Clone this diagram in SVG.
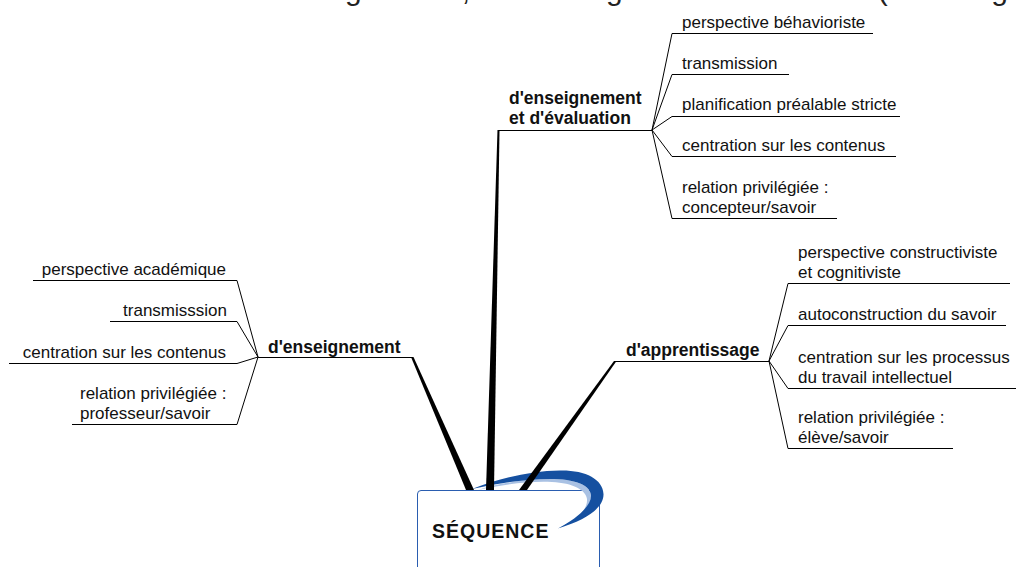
<svg xmlns="http://www.w3.org/2000/svg" width="1016" height="567" viewBox="0 0 1016 567">
<style>
.leaf{font-family:"Liberation Sans",Arial,sans-serif;font-size:17px;fill:#111}
.br{font-family:"Liberation Sans",Arial,sans-serif;font-size:17.5px;font-weight:bold;fill:#111}
.thin{stroke:#000;stroke-width:1;fill:none}
.thick{fill:#000;stroke:none}
</style>
<rect width="1016" height="567" fill="#fff"/>
<text x="-32" y="0" font-family="Liberation Sans, Arial, sans-serif" font-size="30" fill="#222">différentes situations d'enseignement, et d'enseignement-évaluation (voir la figure</text>

<g id="center">
  <path d="M417.5 600 V494 Q417.5 490.5 421 490.5 H599.5 V600" fill="#fff" stroke="#2a5db0" stroke-width="1"/>
  <path d="M478 490 C505 484 530 481 552 482 C573 483 586 490 587 499 C588 510 575 521 559 528 C580 520 592 508 591 495 C590 485 575 479 550 479 C525 479 500 483 478 490 Z" fill="#a9c1e3"/>
  <path d="M472 489 C500 478 530 471 560 470.5 C585 470 603 479 603.5 494 C604 508 586 520 558 528.5 C578 518 592 505 591 495 C590 485 575 479 550 479 C525 479 500 483 472 489 Z" fill="#1550a0"/>
  <text x="432" y="538" font-family="Liberation Sans, Arial, sans-serif" font-size="19.5" font-weight="bold" letter-spacing="1" fill="#111">SÉQUENCE</text>
</g>

<g id="connectors">
  <polygon class="thick" points="411,357 413.5,357 474,490 466,490"/>
  <polygon class="thick" points="497.5,130 499.5,130 494,490 486,490"/>
  <polygon class="thick" points="614,361 616.5,361 527,490 519,490"/>
  <path class="thin" d="M258 357.5 H412 M498 130.5 H652 M615 361.5 H769"/>
  <path class="thin" d="M652 130 L672 33.5 H873 M652 130 L672 74.5 H789 M652 130 L672 116.5 H900 M652 130 L672 156.5 H896 M652 130 L672 218.5 H837"/>
  <path class="thin" d="M258 357 L237 280.5 H33 M258 357 L237 321.5 H110 M258 357 L237 363.5 H9 M258 357 L237 424.5 H72"/>
  <path class="thin" d="M769 361 L788 283.5 H1010 M769 361 L788 325.5 H1006 M769 361 L788 388.5 H1016 M769 361 L788 448.5 H953"/>
</g>

<g id="branch-enseignement"><text class="br" x="268" y="353">d'enseignement</text></g>
<g id="branch-evaluation"><text class="br" x="509" y="104">d'enseignement</text><text class="br" x="509" y="124">et d'évaluation</text></g>
<g id="branch-apprentissage"><text class="br" x="626" y="356">d'apprentissage</text></g>

<g id="leaf-l1"><text class="leaf" x="226" y="275" text-anchor="end">perspective académique</text></g>
<g id="leaf-l2"><text class="leaf" x="227" y="316" text-anchor="end">transmisssion</text></g>
<g id="leaf-l3"><text class="leaf" x="226" y="358" text-anchor="end">centration sur les contenus</text></g>
<g id="leaf-l4"><text class="leaf" x="80" y="399">relation privilégiée :</text><text class="leaf" x="80" y="419">professeur/savoir</text></g>

<g id="leaf-t1"><text class="leaf" x="682" y="28">perspective béhavioriste</text></g>
<g id="leaf-t2"><text class="leaf" x="682" y="69">transmission</text></g>
<g id="leaf-t3"><text class="leaf" x="682" y="110">planification préalable stricte</text></g>
<g id="leaf-t4"><text class="leaf" x="682" y="151">centration sur les contenus</text></g>
<g id="leaf-t5"><text class="leaf" x="682" y="193">relation privilégiée :</text><text class="leaf" x="682" y="213">concepteur/savoir</text></g>

<g id="leaf-r1"><text class="leaf" x="798" y="258">perspective constructiviste</text><text class="leaf" x="798" y="278">et cognitiviste</text></g>
<g id="leaf-r2"><text class="leaf" x="798" y="320">autoconstruction du savoir</text></g>
<g id="leaf-r3"><text class="leaf" x="798" y="363">centration sur les processus</text><text class="leaf" x="798" y="383">du travail intellectuel</text></g>
<g id="leaf-r4"><text class="leaf" x="798" y="423">relation privilégiée :</text><text class="leaf" x="798" y="443">élève/savoir</text></g>
</svg>
